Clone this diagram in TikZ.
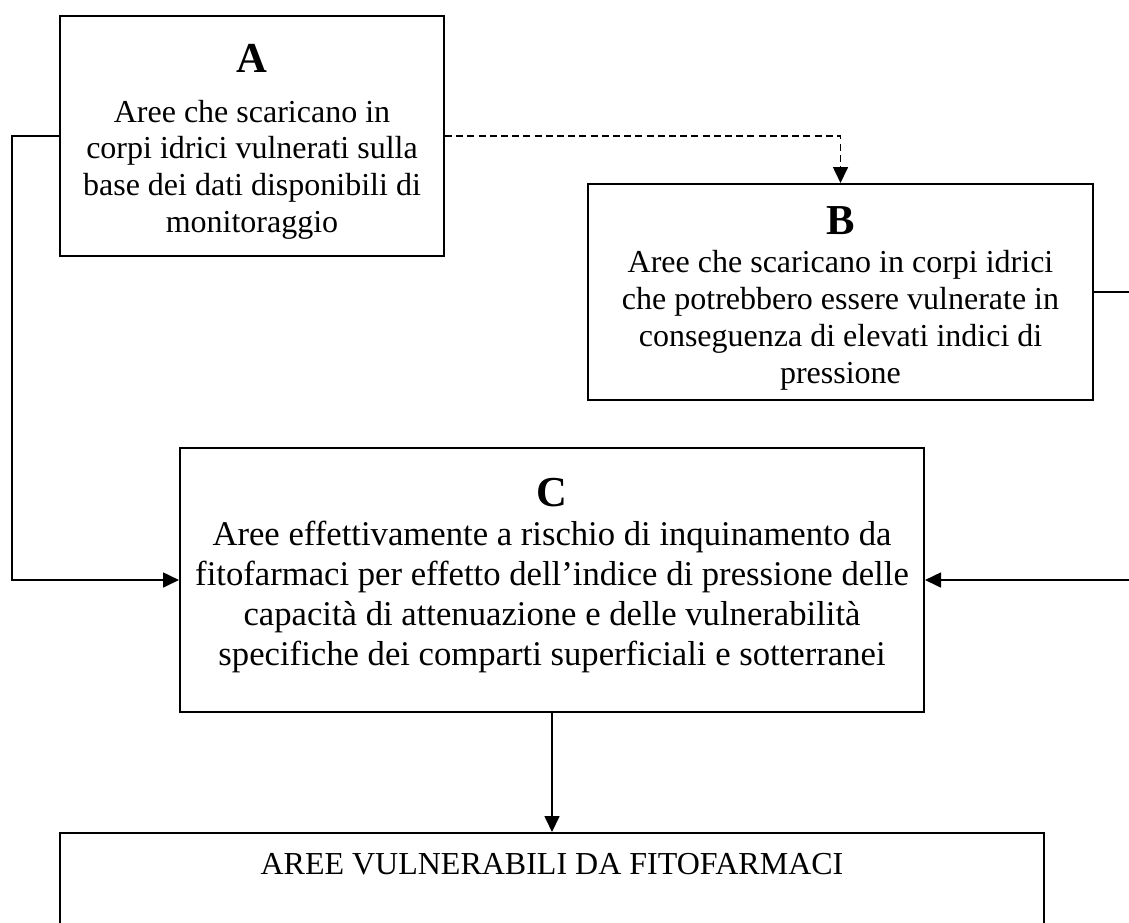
\documentclass[tikz,border=0pt]{standalone}
\usepackage{fontspec}
\setmainfont{Liberation Serif}
\usetikzlibrary{arrows.meta}

\newcommand{\boxtitle}[1]{{\fontsize{16}{18.4}\selectfont\bfseries #1}}

\begin{document}
\begin{tikzpicture}[x=0.375pt,y=-0.375pt,
  areabox/.style={draw,line width=0.75pt,align=flush center,inner sep=0pt,
    font=\fontsize{12}{13.8}\selectfont},
  link/.style={line width=0.7pt,-{Triangle[length=6pt,width=5.6pt]}}]
\useasboundingbox (0,0) rectangle (1129,922);

% the four areas (text height/depth measured from the title baseline)
\node[areabox,text width=144pt,text height=21pt,text depth=69pt] (A) at (252,136)
  {\boxtitle{A}\\[5pt]Aree che scaricano in\\corpi idrici vulnerati sulla\\base dei dati disponibili di\\monitoraggio};
\node[areabox,text width=189.4pt,text height=18.75pt,text depth=62.25pt] (B) at (840.5,292)
  {\boxtitle{B}\\[0.8pt]Aree che scaricano in corpi idrici\\che potrebbero essere vulnerate in\\conseguenza di elevati indici di\\pressione};
\node[areabox,text width=279pt,text height=21.75pt,text depth=77.25pt,
  font=\fontsize{13}{14.95}\selectfont] (C) at (552,580)
  {\boxtitle{C}\\Aree effettivamente a rischio di inquinamento da\\fitofarmaci per effetto dell’indice di pressione delle\\capacità di attenuazione e delle vulnerabilità\\specifiche dei comparti superficiali e sotterranei};
\node[areabox,anchor=north,text width=369pt,text height=15.4pt,text depth=40pt] (D) at (552,832)
  {AREE VULNERABILI DA FITOFARMACI};

% corners of the side links
\coordinate (lcorner) at (12,136);
\coordinate (rcorner) at (1140,292);

\draw[link] (A.west) -- (lcorner) |- (C.west);
\draw[link,dash pattern=on 2.6pt off 1.6pt] (A.east) -| (B.north);
\draw[link] (B.east) -- (rcorner) |- (C.east);
\draw[link] (C.south) -- (D.north);
\end{tikzpicture}
\end{document}
